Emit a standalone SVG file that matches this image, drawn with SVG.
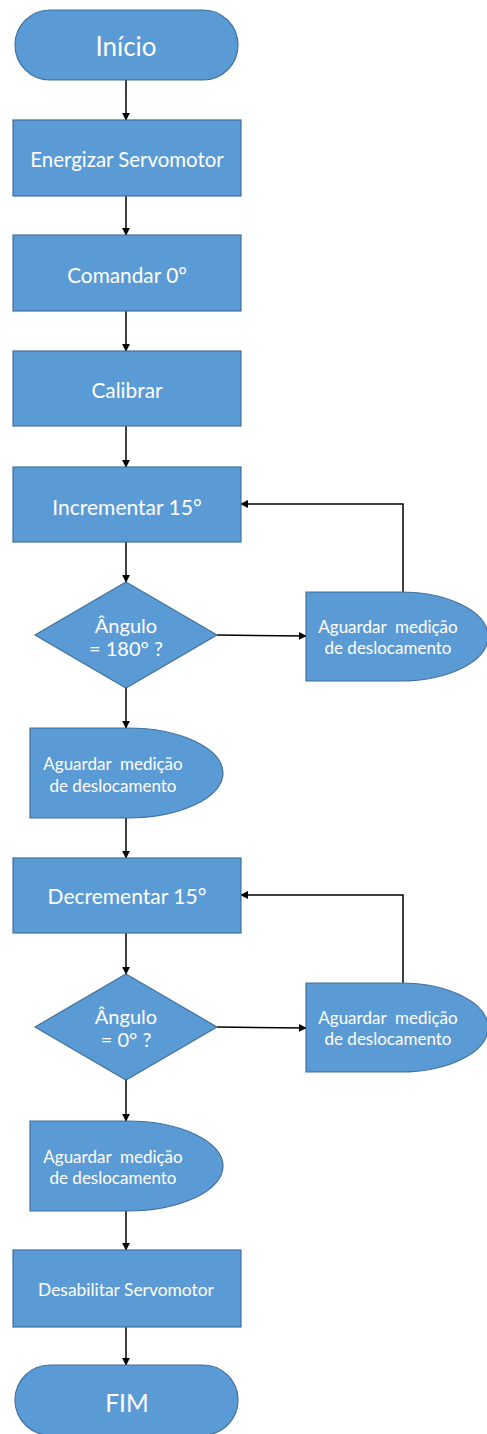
<svg xmlns="http://www.w3.org/2000/svg" width="487" height="1434" viewBox="0 0 487 1434">
<defs>
<style>
.n{fill:#5B9BD5;stroke:#41719C;stroke-width:1.2}
.t{fill:#fff;font-family:Lato,"Open Sans",sans-serif;text-anchor:middle;dominant-baseline:central}
.c{fill:none;stroke:#000;stroke-width:1.5;marker-end:url(#a)}
</style>
<marker id="a" viewBox="0 0 10 10" refX="9" refY="5" markerWidth="8" markerHeight="8" markerUnits="userSpaceOnUse" orient="auto">
<path d="M0,0L10,5L0,10z" fill="#000"/>
</marker>
</defs>
<rect width="487" height="1434" fill="#fff"/>
<g id="connectors">
<path class="c" d="M126,80V120"/>
<path class="c" d="M126,196V235"/>
<path class="c" d="M126,311V351"/>
<path class="c" d="M126,426V467"/>
<path class="c" d="M126,542V582"/>
<path class="c" d="M217,635L306,636"/>
<path class="c" d="M403,592V504H241"/>
<path class="c" d="M126,688V728"/>
<path class="c" d="M126,818V858"/>
<path class="c" d="M126,933V974"/>
<path class="c" d="M217,1027L306,1028"/>
<path class="c" d="M403,983V895H241"/>
<path class="c" d="M126,1080V1121"/>
<path class="c" d="M126,1211V1250"/>
<path class="c" d="M126,1327V1365"/>
</g>
<g id="inicio"><rect class="n" x="15" y="10" width="223" height="70" rx="35"/><text class="t" x="126" y="46" font-size="26">Início</text></g>
<g id="energizar"><rect class="n" x="13" y="120" width="228" height="76"/><text class="t" x="127" y="159" font-size="20.4">Energizar Servomotor</text></g>
<g id="comandar"><rect class="n" x="13" y="235" width="228" height="76"/><text class="t" x="127" y="274" font-size="20.8">Comandar 0°</text></g>
<g id="calibrar"><rect class="n" x="13" y="351" width="228" height="75"/><text class="t" x="127" y="389" font-size="20.8">Calibrar</text></g>
<g id="incrementar"><rect class="n" x="13" y="467" width="228" height="75"/><text class="t" x="127" y="506" font-size="21">Incrementar 15°</text></g>
<g id="angulo180"><path class="n" d="M126,582L217,635L126,688L35,635Z"/><text class="t" x="126" y="625" font-size="20">Ângulo</text><text class="t" x="126" y="648" font-size="20">= 180° ?</text></g>
<g id="aguardar1"><path class="n" d="M306,592H400A88,44.5 0 0 1 400,681H306Z"/><text class="t" x="388" y="626" font-size="17" xml:space="preserve">Aguardar  medição</text><text class="t" x="388" y="647" font-size="17">de deslocamento</text></g>
<g id="aguardar2"><path class="n" d="M30,728H127A96,45 0 0 1 127,818H30Z"/><text class="t" x="113" y="763" font-size="17" xml:space="preserve">Aguardar  medição</text><text class="t" x="113" y="785" font-size="17">de deslocamento</text></g>
<g id="decrementar"><rect class="n" x="13" y="858" width="228" height="75"/><text class="t" x="127" y="895" font-size="21">Decrementar 15°</text></g>
<g id="angulo0"><path class="n" d="M126,974L217,1027L126,1080L35,1027Z"/><text class="t" x="126" y="1016" font-size="20">Ângulo</text><text class="t" x="126" y="1039" font-size="20">= 0° ?</text></g>
<g id="aguardar3"><path class="n" d="M306,983H400A88,44.5 0 0 1 400,1072H306Z"/><text class="t" x="388" y="1017" font-size="17" xml:space="preserve">Aguardar  medição</text><text class="t" x="388" y="1038" font-size="17">de deslocamento</text></g>
<g id="aguardar4"><path class="n" d="M30,1121H127A96,45 0 0 1 127,1211H30Z"/><text class="t" x="113" y="1156" font-size="17" xml:space="preserve">Aguardar  medição</text><text class="t" x="113" y="1177" font-size="17">de deslocamento</text></g>
<g id="desabilitar"><rect class="n" x="13" y="1250" width="228" height="77"/><text class="t" x="126" y="1289" font-size="17.4">Desabilitar Servomotor</text></g>
<g id="fim"><rect class="n" x="15" y="1365" width="223" height="70" rx="35"/><text class="t" x="127" y="1402" font-size="24.5">FIM</text></g>
</svg>
